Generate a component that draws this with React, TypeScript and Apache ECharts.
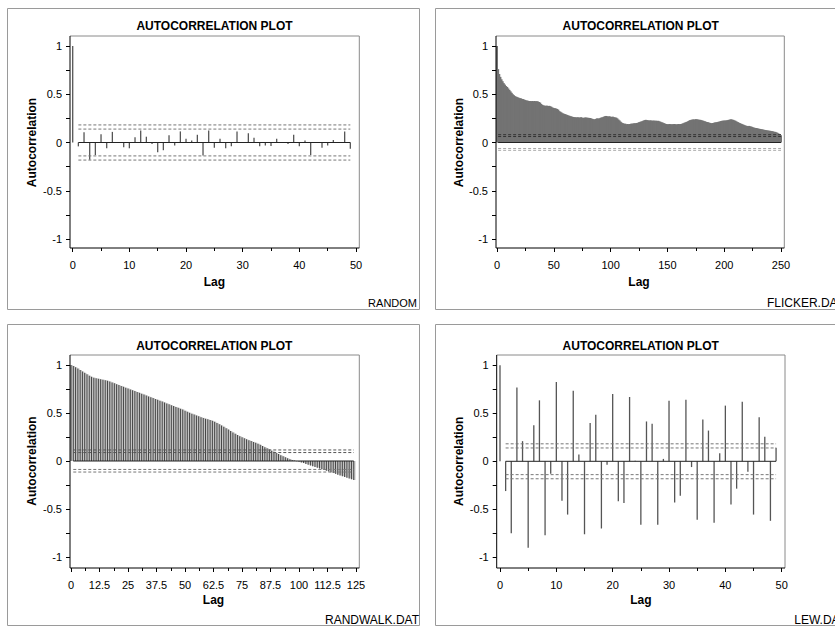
import React, { useEffect, useRef } from "react";
import * as echarts from "echarts";

// ---------- data ----------
const TITLE = "AUTOCORRELATION PLOT";
const X_NAME = "Lag";
const Y_NAME = "Autocorrelation";
const FOOTNOTES = ["RANDOM", "FLICKER.DAT", "RANDWALK.DAT", "LEW.DAT"];

const RANDOM_ACF = [
  1.0, -0.04, 0.105, -0.18, -0.13, 0.085, -0.06, 0.11, 0.005, -0.05,
  -0.06, 0.055, 0.125, 0.06, -0.015, -0.1, -0.08, 0.075, -0.03, 0.115,
  0.04, 0.02, 0.08, -0.135, 0.125, -0.055, 0.04, -0.06, -0.04, 0.115,
  0.005, 0.095, 0.05, -0.04, -0.03, -0.035, 0.04, 0.005, -0.015, 0.08,
  -0.04, 0.02, -0.13, 0.005, -0.055, -0.03, 0.025, 0.005, 0.115, -0.065,
];

const FLICKER_ACF = [
  1.0, 0.76, 0.71, 0.68, 0.655, 0.635, 0.615, 0.6, 0.585, 0.575,
  0.56, 0.545, 0.53, 0.515, 0.5, 0.49, 0.48, 0.475, 0.47, 0.465,
  0.46, 0.458, 0.452, 0.45, 0.445, 0.44, 0.436, 0.434, 0.43, 0.43,
  0.428, 0.43, 0.428, 0.43, 0.428, 0.428, 0.426, 0.42, 0.414, 0.4,
  0.39, 0.385, 0.382, 0.38, 0.382, 0.378, 0.38, 0.376, 0.37, 0.362,
  0.358, 0.355, 0.352, 0.348, 0.34, 0.325, 0.318, 0.31, 0.302, 0.298,
  0.294, 0.29, 0.285, 0.28, 0.276, 0.272, 0.268, 0.265, 0.263, 0.262,
  0.26, 0.262, 0.26, 0.258, 0.262, 0.258, 0.255, 0.258, 0.26, 0.258,
  0.256, 0.255, 0.254, 0.25, 0.245, 0.242, 0.24, 0.245, 0.25, 0.248,
  0.25, 0.255, 0.26, 0.262, 0.268, 0.272, 0.275, 0.272, 0.27, 0.272,
  0.268, 0.265, 0.268, 0.262, 0.26, 0.258, 0.25, 0.238, 0.228, 0.215,
  0.205, 0.2, 0.195, 0.195, 0.19, 0.192, 0.19, 0.192, 0.195, 0.195,
  0.198, 0.2, 0.2, 0.202, 0.205, 0.21, 0.214, 0.218, 0.222, 0.228,
  0.232, 0.235, 0.232, 0.23, 0.228, 0.23, 0.228, 0.226, 0.228, 0.225,
  0.226, 0.224, 0.225, 0.22, 0.215, 0.21, 0.206, 0.2, 0.196, 0.192,
  0.19, 0.19, 0.192, 0.19, 0.188, 0.19, 0.192, 0.19, 0.188, 0.19,
  0.192, 0.19, 0.192, 0.195, 0.2, 0.205, 0.21, 0.214, 0.22, 0.226,
  0.232, 0.235, 0.238, 0.24, 0.238, 0.242, 0.24, 0.238, 0.236, 0.235,
  0.232, 0.228, 0.224, 0.22, 0.215, 0.212, 0.21, 0.205, 0.202, 0.2,
  0.202, 0.205, 0.208, 0.21, 0.212, 0.215, 0.218, 0.222, 0.225, 0.226,
  0.228, 0.228, 0.23, 0.232, 0.235, 0.238, 0.24, 0.238, 0.235, 0.23,
  0.225, 0.218, 0.212, 0.205, 0.2, 0.195, 0.19, 0.185, 0.18, 0.175,
  0.172, 0.17, 0.172, 0.168, 0.165, 0.16, 0.155, 0.152, 0.15, 0.148,
  0.145, 0.142, 0.14, 0.138, 0.135, 0.132, 0.13, 0.128, 0.126, 0.124,
  0.122, 0.12, 0.118, 0.115, 0.112, 0.11, 0.106, 0.1, 0.092, 0.085,
  0.075,
];

const RANDWALK_ACF = [
  1.0, 0.99, 0.977, 0.963, 0.948, 0.933, 0.918, 0.903, 0.889, 0.877,
  0.868, 0.862, 0.857, 0.852, 0.847, 0.842, 0.836, 0.828, 0.819, 0.81,
  0.8, 0.791, 0.782, 0.773, 0.764, 0.755, 0.746, 0.737, 0.728, 0.719,
  0.71, 0.701, 0.692, 0.683, 0.673, 0.664, 0.655, 0.646, 0.637, 0.628,
  0.619, 0.61, 0.6, 0.59, 0.581, 0.572, 0.563, 0.554, 0.545, 0.536,
  0.524, 0.513, 0.503, 0.493, 0.484, 0.475, 0.466, 0.457, 0.449, 0.441,
  0.434, 0.427, 0.418, 0.409, 0.397, 0.384, 0.371, 0.357, 0.342, 0.327,
  0.312, 0.298, 0.284, 0.271, 0.259, 0.247, 0.236, 0.226, 0.217, 0.208,
  0.199, 0.19, 0.18, 0.168, 0.156, 0.144, 0.132, 0.12, 0.108, 0.096,
  0.084, 0.072, 0.06, 0.049, 0.038, 0.028, 0.019, 0.011, 0.004, -0.002,
  -0.008, -0.015, -0.022, -0.03, -0.038, -0.046, -0.054, -0.062, -0.07, -0.078,
  -0.086, -0.094, -0.102, -0.11, -0.118, -0.126, -0.134, -0.142, -0.15, -0.158,
  -0.166, -0.174, -0.182, -0.19, -0.198,
];

const LEW_ACF = [
  1.0, -0.31, -0.75, 0.77, 0.21, -0.9, 0.375, 0.635, -0.77, -0.13,
  0.825, -0.41, -0.555, 0.735, 0.07, -0.76, 0.4, 0.485, -0.7, -0.035,
  0.7, -0.415, -0.435, 0.67, 0.005, -0.66, 0.415, 0.39, -0.66, 0.025,
  0.63, -0.43, -0.36, 0.64, -0.06, -0.61, 0.435, 0.32, -0.64, 0.085,
  0.58, -0.45, -0.285, 0.62, -0.11, -0.555, 0.46, 0.255, -0.62, 0.14,
];

// confidence bands (95% and 99%) drawn as dashed lines
const RANDOM_BOUNDS = [0.139, 0.182];
const FLICKER_BOUNDS = [0.062, 0.081];
const RANDWALK_BOUNDS = [0.088, 0.115];
const LEW_BOUNDS = [0.139, 0.182];

// x axis extents and label step
const X_MAX = [50, 250, 125, 50];
const X_STEP = [10, 50, 12.5, 10];

// ---------- layout / style ----------
const FONT = '"Liberation Sans", Arial, Helvetica, sans-serif';

type Panel = {
  data: number[];
  bounds: number[];
  grid: { left: number; top: number; width: number; height: number };
  frame: { l: number; t: number; r: number; b: number };
  border: { x: number; y: number };
  title: [number, number];
  foot: [number, number];
  footSize: number;
  yNameGap: number;
  xNameGap: number;
  barWidth: number;
  barColor: string;
  upperDash: string;
  lowerDash: string;
};

const PANELS: Panel[] = [
  {
    data: RANDOM_ACF, bounds: RANDOM_BOUNDS,
    grid: { left: 72.7, top: 46, width: 283.3, height: 193 },
    frame: { l: 70, t: 36, r: 359.3, b: 248 },
    border: { x: 7.5, y: 8.5 },
    title: [214.5, 25.5], foot: [417, 302.7], footSize: 11,
    yNameGap: 32, xNameGap: 28, barWidth: 1.3, barColor: "#555",
    upperDash: "#777", lowerDash: "#777",
  },
  {
    data: FLICKER_ACF, bounds: FLICKER_BOUNDS,
    grid: { left: 497, top: 46, width: 284, height: 193 },
    frame: { l: 496, t: 36, r: 784.3, b: 248 },
    border: { x: 435.5, y: 8.5 },
    title: [640.7, 25.5], foot: [844, 302.7], footSize: 12,
    yNameGap: 31, xNameGap: 28, barWidth: 2, barColor: "#737373",
    upperDash: "#333", lowerDash: "#aaa",
  },
  {
    data: RANDWALK_ACF, bounds: RANDWALK_BOUNDS,
    grid: { left: 71, top: 365, width: 285, height: 192 },
    frame: { l: 70, t: 355, r: 359.3, b: 568 },
    border: { x: 7.5, y: 324.5 },
    title: [214.3, 346.3], foot: [419, 620], footSize: 12,
    yNameGap: 32, xNameGap: 26, barWidth: 2.3, barColor: "#c6c6c6",
    upperDash: "#555", lowerDash: "#777",
  },
  {
    data: LEW_ACF, bounds: LEW_BOUNDS,
    grid: { left: 500, top: 365.3, width: 281.7, height: 192 },
    frame: { l: 496.7, t: 355, r: 785, b: 568 },
    border: { x: 435.5, y: 324.5 },
    title: [640.7, 346.3], foot: [846, 620], footSize: 12,
    yNameGap: 31.5, xNameGap: 26, barWidth: 1.3, barColor: "#555",
    upperDash: "#777", lowerDash: "#777",
  },
];

function buildOption() {
  const grids: any[] = [];
  const xAxes: any[] = [];
  const yAxes: any[] = [];
  const series: any[] = [];
  const graphics: any[] = [];

  PANELS.forEach((p, i) => {
    grids.push({ ...p.grid, containLabel: false });
    const xOffset = p.frame.b - (p.grid.top + p.grid.height);
    const yOffset = p.grid.left - p.frame.l;
    xAxes.push({
      type: "value",
      gridIndex: i,
      min: 0,
      max: X_MAX[i],
      interval: X_STEP[i],
      offset: xOffset,
      name: X_NAME,
      nameLocation: "middle",
      nameGap: p.xNameGap,
      nameTextStyle: { fontFamily: FONT, fontWeight: "bold", fontSize: 12, color: "#000" },
      axisLine: { show: false, onZero: false },
      axisTick: { show: true, length: 4, lineStyle: { color: "#000", width: 1 } },
      minorTick: { show: true, splitNumber: 2, length: 3, lineStyle: { color: "#000", width: 1 } },
      splitLine: { show: false },
      minorSplitLine: { show: false },
      axisLabel: { fontFamily: FONT, fontSize: 11, color: "#000", margin: 11, showMinLabel: true, showMaxLabel: true },
    });
    yAxes.push({
      type: "value",
      gridIndex: i,
      min: -1,
      max: 1,
      interval: 0.5,
      offset: yOffset,
      name: Y_NAME,
      nameLocation: "middle",
      nameRotate: 90,
      nameGap: p.yNameGap,
      nameTextStyle: { fontFamily: FONT, fontWeight: "bold", fontSize: 12, color: "#000" },
      axisLine: { show: false, onZero: false },
      axisTick: { show: true, length: 4, lineStyle: { color: "#000", width: 1 } },
      minorTick: { show: true, splitNumber: 2, length: 4, lineStyle: { color: "#000", width: 1 } },
      splitLine: { show: false },
      minorSplitLine: { show: false },
      axisLabel: { fontFamily: FONT, fontSize: 11, color: "#000", margin: 8 },
    });

    const pts = p.data.map((v, lag) => [lag, v]);
    const last = p.data.length - 1;

    series.push({
      type: "bar",
      xAxisIndex: i,
      yAxisIndex: i,
      data: pts,
      barWidth: p.barWidth,
      barGap: "-100%",
      itemStyle: { color: p.barColor },
      silent: true,
      z: 2,
    });
    if (i === 2) {
      // darker core strokes of the dense random-walk spikes
      series.push({
        type: "bar",
        xAxisIndex: i,
        yAxisIndex: i,
        data: pts,
        barWidth: 0.5,
        barGap: "-100%",
        itemStyle: { color: "#444" },
        silent: true,
        z: 3,
      });
    }

    // zero baseline
    series.push({
      type: "line",
      xAxisIndex: i,
      yAxisIndex: i,
      data: [[1, 0], [last, 0]],
      symbol: "none",
      lineStyle: { color: "#222", width: 1 },
      silent: true,
      z: 4,
    });
    // confidence bounds
    p.bounds.forEach((b) => {
      [b, -b].forEach((v) => {
        series.push({
          type: "line",
          xAxisIndex: i,
          yAxisIndex: i,
          data: [[1, v], [last, v]],
          symbol: "none",
          lineStyle: { color: v > 0 ? p.upperDash : p.lowerDash, width: 1, type: [3, 2] },
          silent: true,
          z: 5,
        });
      });
    });

    // outer panel border
    graphics.push({
      type: "rect",
      silent: true,
      shape: { x: p.border.x, y: p.border.y, width: 412, height: 301 },
      style: { fill: "none", stroke: "#9a9a9a", lineWidth: 1 },
      z: 1,
    });
    // plot frame: top/right gray, left/bottom black
    const f = p.frame;
    graphics.push(
      { type: "line", silent: true, shape: { x1: f.l, y1: f.t, x2: f.r, y2: f.t }, style: { stroke: "#8a8a8a", lineWidth: 1 }, z: 10 },
      { type: "line", silent: true, shape: { x1: f.r, y1: f.t, x2: f.r, y2: f.b }, style: { stroke: "#8a8a8a", lineWidth: 1 }, z: 10 },
      { type: "line", silent: true, shape: { x1: f.l, y1: f.t, x2: f.l, y2: f.b }, style: { stroke: "#000", lineWidth: 1 }, z: 10 },
      { type: "line", silent: true, shape: { x1: f.l, y1: f.b, x2: f.r, y2: f.b }, style: { stroke: "#000", lineWidth: 1 }, z: 10 },
    );
    // title
    graphics.push({
      type: "text",
      silent: true,
      x: p.title[0],
      y: p.title[1],
      style: {
        text: TITLE,
        fill: "#000",
        font: `bold 12px ${FONT}`,
        textAlign: "center",
        align: "center",
        textVerticalAlign: "middle",
        verticalAlign: "middle",
      },
      z: 10,
    });
    // footnote (data set name)
    graphics.push({
      type: "text",
      silent: true,
      x: p.foot[0],
      y: p.foot[1],
      style: {
        text: FOOTNOTES[i],
        fill: "#000",
        font: `${p.footSize}px ${FONT}`,
        textAlign: "right",
        align: "right",
        textVerticalAlign: "middle",
        verticalAlign: "middle",
      },
      z: 10,
    });
  });

  return {
    animation: false,
    backgroundColor: "#fff",
    grid: grids,
    xAxis: xAxes,
    yAxis: yAxes,
    series,
    graphic: { elements: graphics },
  };
}

export default function App() {
  const ref = useRef<HTMLDivElement>(null);
  useEffect(() => {
    if (!ref.current) return;
    const chart = echarts.init(ref.current, undefined, { renderer: "svg", width: 835, height: 626 });
    chart.setOption(buildOption() as any);
    return () => chart.dispose();
  }, []);
  return (
    <div
      ref={ref}
      style={{ position: "fixed", left: 0, top: 0, width: 835, height: 626, background: "#fff", overflow: "hidden" }}
    />
  );
}
